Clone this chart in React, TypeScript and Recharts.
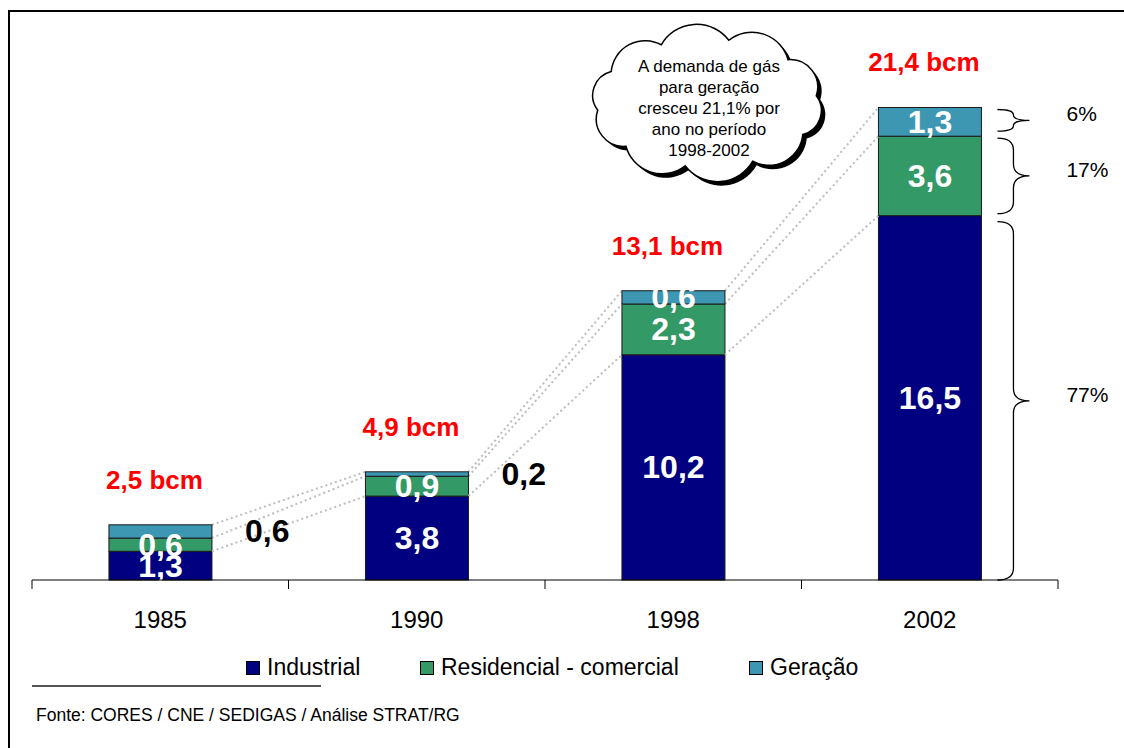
import { Bar, BarChart, XAxis, YAxis } from "recharts"

// Consumo de gás natural por segmento (bcm)
const anos = ["1985", "1990", "1998", "2002"]
const industrial = [1.3, 3.8, 10.2, 16.5]
const residencial = [0.6, 0.9, 2.3, 3.6]
const geracao = [0.6, 0.2, 0.6, 1.3]
const nomes = ["Industrial", "Residencial - comercial", "Geração"]
const cores = ["#000080", "#339966", "#3d97b2"]
const nota = ["A demanda de gás", "para geração", "cresceu 21,1% por", "ano no período", "1998-2002"]
const fonte = "Fonte: CORES / CNE / SEDIGAS / Análise STRAT/RG"

const dados = anos.map((ano, i) => ({
  ano,
  industrial: industrial[i],
  residencial: residencial[i],
  geracao: geracao[i],
}))

const W = 1124
const H = 748
const M = { top: 28, right: 66, bottom: 128, left: 32 }
const STEP = (W - M.left - M.right) / anos.length
const FONT = "'Liberation Sans', Arial, Helvetica, sans-serif"

const fmt = (v: number) => v.toFixed(1).replace(".", ",")

function Segmento(props: any) {
  const { x, y, width, height, fill } = props
  return <rect x={x} y={y} width={width} height={height} fill={fill} stroke="#1a1a1a" strokeWidth={1} />
}

function chave(xl: number, y1: number, y2: number) {
  const xm = xl + 16
  const xt = xl + 32
  const mid = (y1 + y2) / 2
  const r = Math.min(12, (y2 - y1) / 4)
  return `M ${xl} ${y1} Q ${xm} ${y1} ${xm} ${y1 + r} L ${xm} ${mid - r} Q ${xm} ${mid} ${xt} ${mid} Q ${xm} ${mid} ${xm} ${mid + r} L ${xm} ${y2 - r} Q ${xm} ${y2} ${xl} ${y2}`
}

// último segmento da pilha: desenha também rótulos, linhas pontilhadas e chaves
function GeracaoShape(props: any) {
  const { x, y, width, height, fill, index } = props
  const ppu = height / geracao[index]
  const topoRes = y + height
  const topoInd = topoRes + residencial[index] * ppu
  const base = topoInd + industrial[index] * ppu
  const cx = x + width / 2
  const dir = x + width
  const total = industrial[index] + residencial[index] + geracao[index]

  const linhas: any[] = []
  if (index < anos.length - 1) {
    const j = index + 1
    const a = [industrial[index], industrial[index] + residencial[index], total]
    const b = [industrial[j], industrial[j] + residencial[j], industrial[j] + residencial[j] + geracao[j]]
    a.forEach((v, k) =>
      linhas.push(
        <line key={k} x1={dir} y1={base - v * ppu} x2={x + STEP} y2={base - b[k] * ppu}
          stroke="#bdbdbd" strokeWidth={2} strokeDasharray="2 3" />
      )
    )
  }

  const branco = { fill: "#fff", fontSize: 32, fontWeight: 700, fontFamily: FONT, textAnchor: "middle" as const }
  const meioG = (y + topoRes) / 2

  let chaves = null
  if (index === anos.length - 1) {
    const segs = [
      [y + 2, topoRes - 5, geracao[index]],
      [topoRes + 2, topoInd - 2, residencial[index]],
      [topoInd + 6, base, industrial[index]],
    ]
    chaves = segs.map(([a, b, v], k) => (
      <g key={k}>
        <path d={chave(dir + 16, a, b)} fill="none" stroke="#000" strokeWidth={1.3} />
        <text x={dir + 85} y={(a + b) / 2 + 1} fontSize={21} fontFamily={FONT} fill="#000">
          {Math.round((v / total) * 100)}%
        </text>
      </g>
    ))
  }

  return (
    <g>
      {linhas}
      <rect x={x} y={y} width={width} height={height} fill={fill} stroke="#1a1a1a" strokeWidth={1} />
      <text {...branco} x={cx} y={(topoInd + base) / 2 + 11}>{fmt(industrial[index])}</text>
      <text {...branco} x={cx} y={(topoRes + topoInd) / 2 + 11}>{fmt(residencial[index])}</text>
      {index >= 2 ? (
        <text {...branco} x={cx} y={meioG + 11}>{fmt(geracao[index])}</text>
      ) : (
        <text x={dir + 33} y={meioG + 11} fill="#000" fontSize={32} fontWeight={700} fontFamily={FONT}>
          {fmt(geracao[index])}
        </text>
      )}
      <text x={cx - 6} y={y - 36} fill="#ff0000" fontSize={26} fontWeight={700} fontFamily={FONT} textAnchor="middle">
        {fmt(total)} bcm
      </text>
      {chaves}
    </g>
  )
}

function TickAno(props: any) {
  const { x, y, payload, index } = props
  return (
    <g>
      <line x1={x - STEP / 2} y1={y} x2={x - STEP / 2} y2={y + 9} stroke="#000" />
      {index === anos.length - 1 && <line x1={x + STEP / 2} y1={y} x2={x + STEP / 2} y2={y + 9} stroke="#000" />}
      <text x={x} y={y + 48} textAnchor="middle" fontSize={24} fontFamily={FONT} fill="#000">
        {payload.value}
      </text>
    </g>
  )
}

function nuvem(cx: number, cy: number, rx: number, ry: number, n: number) {
  const pts = Array.from({ length: n }, (_, k) => {
    const a = -Math.PI / 2 + 0.2 + (k * 2 * Math.PI) / n
    return [cx + rx * Math.cos(a), cy + ry * Math.sin(a)]
  })
  let d = `M ${pts[0][0]} ${pts[0][1]}`
  for (let k = 0; k < n; k++) {
    const p = pts[k]
    const q = pts[(k + 1) % n]
    const r = Math.hypot(q[0] - p[0], q[1] - p[1]) * 0.6
    d += ` A ${r} ${r} 0 0 1 ${q[0]} ${q[1]}`
  }
  return d + " Z"
}

const legendaX = [246, 420, 749]

export default function App() {
  const caminho = nuvem(707, 103, 110, 64, 10)
  return (
    <div style={{ position: "absolute", left: 0, top: 0, width: W, height: H, overflow: "hidden", background: "#fff", fontFamily: FONT }}>
      <div style={{ position: "absolute", left: 8, top: 10, width: 1300, height: 900, borderLeft: "2px solid #000", borderTop: "2px solid #000" }} />
      <BarChart width={W} height={H} data={dados} margin={M} barCategoryGap="30%">
        <YAxis hide domain={[0, 25]} />
        <XAxis dataKey="ano" height={40} tickSize={0} tickMargin={0} axisLine={{ stroke: "#000" }} tickLine={false} tick={<TickAno />} interval={0} />
        <Bar dataKey="industrial" stackId="a" fill={cores[0]} shape={<Segmento />} isAnimationActive={false} />
        <Bar dataKey="residencial" stackId="a" fill={cores[1]} shape={<Segmento />} isAnimationActive={false} />
        <Bar dataKey="geracao" stackId="a" fill={cores[2]} shape={<GeracaoShape />} isAnimationActive={false} />
      </BarChart>

      <svg width={W} height={H} style={{ position: "absolute", left: 0, top: 0, pointerEvents: "none" }}>
        <path d={caminho} transform="translate(4,4)" fill="#000" />
        <path d={caminho} fill="#fff" stroke="#000" strokeWidth={1.5} />
        {nota.map((t, i) => (
          <text key={i} x={709} y={72 + i * 21} textAnchor="middle" fontSize={17} fontFamily={FONT} fill="#000">
            {t}
          </text>
        ))}
        <line x1={32} y1={686} x2={321} y2={686} stroke="#555" strokeWidth={2} />
        <text x={36} y={721} fontSize={17.5} fontFamily={FONT} fill="#000">{fonte}</text>
      </svg>

      {nomes.map((n, i) => (
        <div key={n} style={{ position: "absolute", left: legendaX[i], top: 654, display: "flex", alignItems: "center", fontSize: 23, color: "#000", whiteSpace: "nowrap" }}>
          <span style={{ display: "inline-block", width: 12, height: 12, background: cores[i], border: "1px solid #000", marginRight: 7 }} />
          {n}
        </div>
      ))}
    </div>
  )
}
